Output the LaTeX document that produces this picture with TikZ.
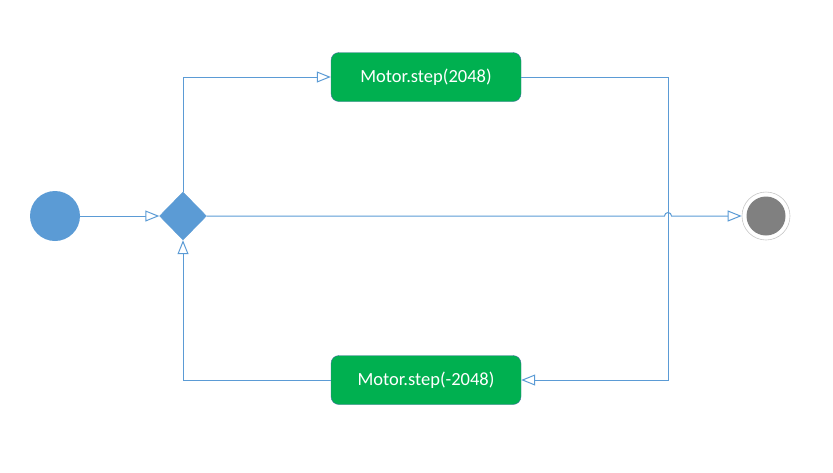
\documentclass[tikz,border=0pt]{standalone}
\usepackage{fontspec}
\setmainfont{Carlito}
\usepackage{xcolor}
\usepackage{tikz}
\usetikzlibrary{calc,positioning,arrows.meta,shapes.geometric}
\definecolor{azulLinea}{RGB}{91,155,213}
\definecolor{verdeBox}{RGB}{0,176,80}
\definecolor{bordeBox}{RGB}{65,113,156}
\definecolor{grisFin}{RGB}{128,128,128}
\definecolor{grisAro}{RGB}{200,200,200}
\tikzset{
  flow/.style={draw=azulLinea, line width=1pt},
  flecha/.style={flow, -{Triangle[open, length=14pt, width=11pt, fill=white]}},
  accion/.style={draw=bordeBox, fill=verdeBox, rounded corners=8pt,
    minimum width=190pt, minimum height=49pt, inner sep=0pt,
    text=white, font=\fontsize{18.5}{20}\selectfont},
}
\begin{document}
\begin{tikzpicture}[x=1pt, y=-1pt]
  \useasboundingbox (0,0) rectangle (833,472);
  % Start and decision
  \node[circle, fill=azulLinea, minimum size=50pt, inner sep=0pt] (inicio) at (55,216) {};
  \node[diamond, fill=azulLinea, draw=azulLinea, minimum width=47pt, minimum height=48pt, inner sep=0pt] (decision) at (183,216) {};
  % Actions
  \node[accion] (avance) at (426,77) {Motor.step(2048)};
  \node[accion] (retro) at (426,380) {Motor.step(-2048)};
  % End
  \node[circle, draw=grisAro, fill=white, line width=0.6pt, minimum size=48pt, inner sep=0pt] (fin) at (766,216) {};
  \node[circle, fill=grisFin, minimum size=39pt, inner sep=0pt] at (fin) {};
  % Connectors
  \coordinate (esquinaA) at (668,77);
  \coordinate (esquinaB) at (668,380);
  \coordinate (salto) at (668,216);
  \draw[flecha] (inicio) -- (decision.west);
  \draw[flecha] (decision.north) |- (avance.west);
  \draw[flecha] (avance.east) -- (esquinaA) -- (esquinaB) -- (retro.east);
  \draw[flecha] (retro.west) -| (decision.south);
  \draw[flecha] (decision.east) -- ($(salto)+(-3.5,0)$)
    arc[start angle=180, end angle=360, radius=3.5] -- (fin.west);
\end{tikzpicture}
\end{document}
